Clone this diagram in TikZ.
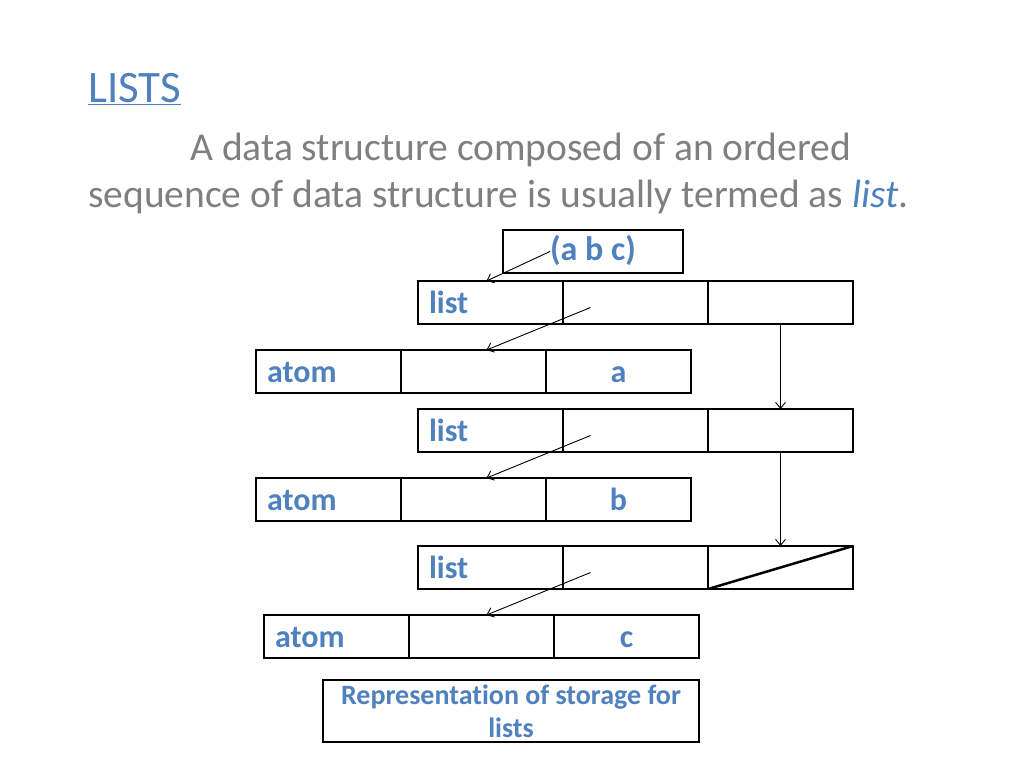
\documentclass[tikz,border=0pt]{standalone}
\usepackage{fontspec}
\setmainfont[Ligatures=NoCommon]{Carlito}
\usetikzlibrary{positioning, calc, arrows.meta}
\definecolor{headblue}{HTML}{4F81BD}
\definecolor{bodygray}{HTML}{7F7F7F}
\tikzstyle{cell} = [draw, rectangle, line width=2pt, outer sep=0pt, inner sep=0pt, minimum width=145pt, minimum height=43pt, text height=24pt, text depth=2pt, text=headblue, font=\fontsize{32}{36}\selectfont\bfseries]
\tikzstyle{tag} = [cell, text width=123pt, align=left]
\tikzstyle{ptr} = [-{Straight Barb[length=6pt,width=10pt]}, line width=0.9pt]
\tikzstyle{body} = [anchor=base west, inner sep=0pt, text=bodygray, font=\fontsize{39.5}{47}\selectfont]

\begin{document}
\begin{tikzpicture}[x=1pt, y=-1pt]
    \useasboundingbox[fill=white] (0,0) rectangle (1024,768);

    % Heading and text
    \node (title) [anchor=base west, inner sep=0pt, text=headblue, font=\fontsize{45}{50}\selectfont] at (88,102) {\underline{LISTS}};
    \node (line1) [body] at (190,160) {A data structure composed of an ordered};
    \node (line2) [body] at (88,207) {sequence of data structure is usually termed as \textcolor{headblue}{\itshape list}.};

    % Head of the list
    \node (abc) [cell, minimum width=180pt, text height=25pt, text depth=7pt, font=\fontsize{34}{38}\selectfont\bfseries] at (593,251.5) {(a b c)};

    % List cells
    \foreach \n/\y in {1/281, 2/409, 3/546} {
        \node (l\n a) [tag, anchor=north west] at (418,\y) {list};
        \node (l\n b) [cell, right=0pt of l\n a] {};
        \node (l\n c) [cell, right=0pt of l\n b] {};
    }

    % Atom cells
    \foreach \n/\x/\y/\v in {1/256/350/a, 2/256/478/b, 3/264/615/c} {
        \node (a\n a) [tag, anchor=north west] at (\x,\y) {atom};
        \node (a\n b) [cell, right=0pt of a\n a] {};
        \node (a\n c) [cell, right=0pt of a\n b] {\v};
    }

    % Caption
    \node (caption) [draw, line width=2pt, minimum width=376pt, minimum height=62pt, inner sep=0pt, align=center, text=headblue, font=\fontsize{28}{33}\selectfont\bfseries] at (511,711) {Representation of storage for\\lists};

    % Pointers
    \draw [ptr] ([xshift=-43pt]abc.center) -- ([xshift=-4pt]l1a.north);
    \foreach \n in {1,2,3} {
        \draw [ptr] ([xshift=-45pt,yshift=-5pt]l\n b.center) -- ([xshift=-4pt]l\n a.south |- a\n b.north);
    }
    \draw [ptr] (l1c.south) -- (l2c.north);
    \draw [ptr] (l2c.south) -- (l3c.north);
    \draw [line width=2.5pt] (l3c.south west) -- (l3c.north east);
\end{tikzpicture}
\end{document}
